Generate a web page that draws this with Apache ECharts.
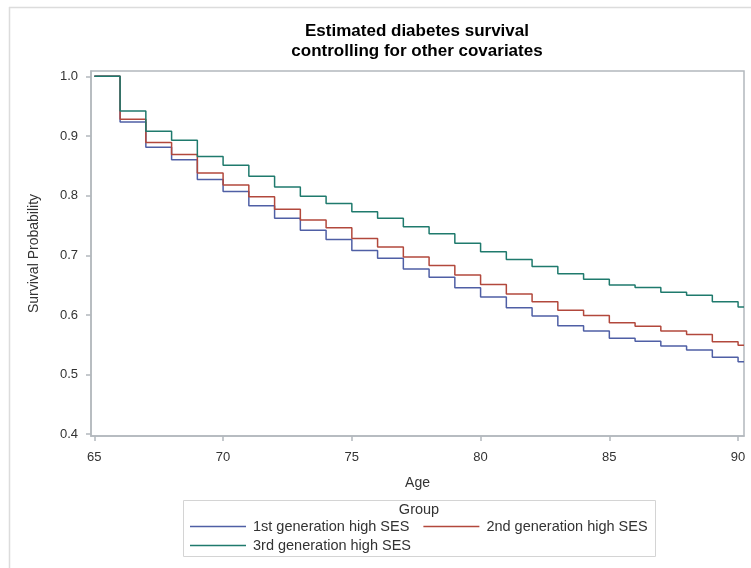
<!DOCTYPE html>
<html>
<head>
<meta charset="utf-8">
<script src="https://cdn.jsdelivr.net/npm/echarts@6/dist/echarts.min.js"></script>
<style>
html,body{margin:0;padding:0;background:#fff;}
#chart{width:751px;height:568px;}
</style>
</head>
<body>
<div id="chart"></div>
<script>
// ---- data ----
const ages = [65,66,67,68,69,70,71,72,73,74,75,76,77,78,79,80,81,82,83,84,85,86,87,88,89,90];
const ageEnd = 90.23;
const firstGen  = [1.0,0.9235,0.881,0.860,0.827,0.807,0.783,0.762,0.742,0.7265,0.708,0.695,0.677,0.663,0.6455,0.630,0.612,0.598,0.582,0.573,0.561,0.556,0.548,0.541,0.529,0.5215];
const secondGen = [1.0,0.928,0.889,0.869,0.838,0.818,0.798,0.777,0.759,0.746,0.728,0.714,0.697,0.683,0.667,0.651,0.635,0.622,0.608,0.599,0.587,0.581,0.573,0.567,0.555,0.549];
const thirdGen  = [1.0,0.942,0.908,0.893,0.8655,0.851,0.8325,0.8146,0.799,0.787,0.773,0.762,0.748,0.736,0.720,0.706,0.693,0.681,0.669,0.660,0.650,0.646,0.638,0.633,0.622,0.6135];
const groupNames = ['1st generation high SES','2nd generation high SES','3rd generation high SES'];
const xTicks = [65,70,75,80,85,90];
const yTicks = [0.4,0.5,0.6,0.7,0.8,0.9,1.0];
const titleText = 'Estimated diabetes survival\ncontrolling for other covariates';
const legendTitle = 'Group';

// ---- chart ----
const colors = ['#4f5fa5','#b2483c','#1f7a6d'];
const axisColor = '#b3b8bd';
const font = 'Liberation Sans, Arial, sans-serif';
function toSeries(vals){
  const d = ages.map((a,i)=>[a, vals[i]]);
  d.push([ageEnd, vals[vals.length-1]]);
  return d;
}
const allVals = [firstGen, secondGen, thirdGen];
const legendText = {fontFamily:font, fontSize:14.5, color:'#333', padding:[0,0,0,2]};
const chart = echarts.init(document.getElementById('chart'), null, {renderer:'canvas'});
chart.setOption({
  animation:false,
  backgroundColor:'#ffffff',
  title:{
    text:titleText, left:417, top:22, padding:0, textAlign:'center',
    textStyle:{fontFamily:font, fontSize:17, fontWeight:'bold', color:'#000', lineHeight:19.5}
  },
  grid:{left:91, right:7, top:71, bottom:132, show:true, borderColor:axisColor, borderWidth:1.5, containLabel:false},
  xAxis:{
    type:'value', min:64.87, max:ageEnd,
    name:'Age', nameLocation:'middle', nameGap:40,
    nameTextStyle:{fontFamily:font, fontSize:14, color:'#333'},
    axisLine:{show:true, lineStyle:{color:axisColor, width:1.5}},
    axisTick:{show:true, length:5, customValues:xTicks, lineStyle:{color:axisColor, width:1.5}},
    axisLabel:{customValues:xTicks, margin:15, fontFamily:font, fontSize:13, color:'#333'},
    splitLine:{show:false}
  },
  yAxis:{
    type:'value', min:0.397, max:1.009,
    name:'Survival Probability', nameLocation:'middle', nameGap:50,
    nameTextStyle:{fontFamily:font, fontSize:14, color:'#333'},
    axisLine:{show:true, lineStyle:{color:axisColor, width:1.5}},
    axisTick:{show:true, length:5, customValues:yTicks, lineStyle:{color:axisColor, width:1.5}},
    axisLabel:{customValues:yTicks, margin:13, fontFamily:font, fontSize:13, color:'#333',
      formatter:v=>Number(v).toFixed(1)},
    splitLine:{show:false}
  },
  legend:[
    {data:[groupNames[0],groupNames[1]], left:190, top:519, orient:'horizontal', icon:'rect',
     itemWidth:56, itemHeight:1.5, itemGap:14, padding:0, textStyle:legendText},
    {data:[groupNames[2]], left:190, top:538, orient:'horizontal', icon:'rect',
     itemWidth:56, itemHeight:1.5, itemGap:14, padding:0, textStyle:legendText}
  ],
  graphic:[
    {type:'line', shape:{x1:9,y1:7.5,x2:751,y2:7.5}, style:{stroke:'#dcdcdc', lineWidth:1.5}, silent:true},
    {type:'line', shape:{x1:9.5,y1:7,x2:9.5,y2:568}, style:{stroke:'#dcdcdc', lineWidth:1.5}, silent:true},
    {type:'rect', shape:{x:183.5,y:500.5,width:472,height:56}, style:{fill:'none', stroke:'#d4d4d4', lineWidth:1}, silent:true},
    {type:'text', x:419, y:510, style:{text:legendTitle, align:'center', verticalAlign:'middle',
      font:'14.5px Liberation Sans, Arial, sans-serif', fill:'#333'}, silent:true}
  ],
  series: allVals.map((vals,i)=>({
    name:groupNames[i], type:'line', step:'end', data:toSeries(vals),
    symbol:'none', lineStyle:{color:colors[i], width:1.5}, itemStyle:{color:colors[i]}, z:2+i
  }))
});
</script>
</body>
</html>
